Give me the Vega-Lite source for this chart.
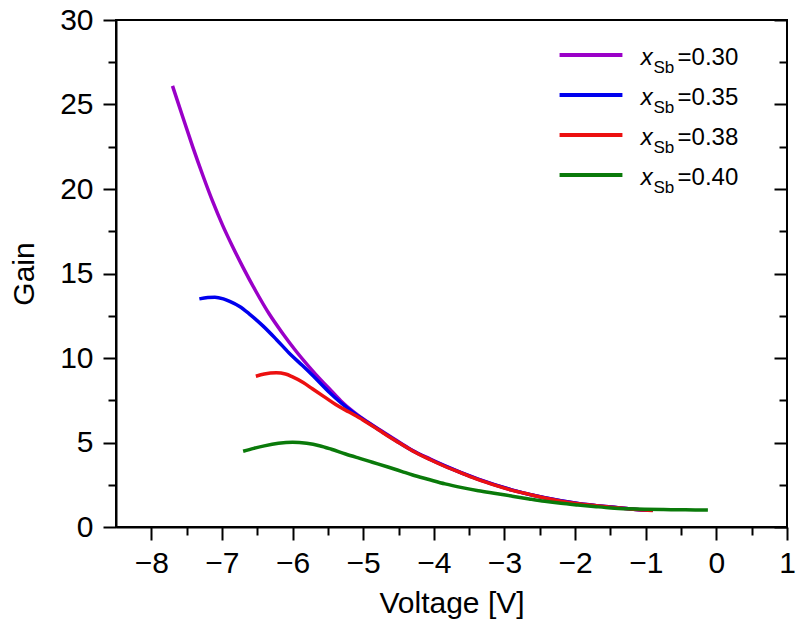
{
  "$schema": "https://vega.github.io/schema/vega-lite/v6.json",
  "width": 671,
  "height": 507,
  "autosize": {"type": "none"},
  "padding": {"left": 116, "top": 20, "right": 10, "bottom": 102},
  "background": "white",
  "view": {"stroke": "black", "strokeWidth": 2},
  "config": {
    "font": "Liberation Sans",
    "axis": {
      "grid": false,
      "domainColor": "black",
      "domainWidth": 2,
      "tickColor": "black",
      "tickWidth": 2,
      "labelFont": "Liberation Sans",
      "labelFontSize": 30,
      "labelColor": "black",
      "labelOverlap": false,
      "labelFlush": false,
      "labelBound": false,
      "titleFont": "Liberation Sans",
      "titleFontSize": 30,
      "titleFontWeight": "normal",
      "titleColor": "black"
    }
  },
  "datasets": {
    "gain": [
      {"v": -7.70, "g": 26.1, "s": "0.30"},
      {"v": -7.55, "g": 24.2, "s": "0.30"},
      {"v": -7.41, "g": 22.45, "s": "0.30"},
      {"v": -7.27, "g": 20.8, "s": "0.30"},
      {"v": -7.13, "g": 19.25, "s": "0.30"},
      {"v": -6.99, "g": 17.85, "s": "0.30"},
      {"v": -6.85, "g": 16.6, "s": "0.30"},
      {"v": -6.70, "g": 15.35, "s": "0.30"},
      {"v": -6.52, "g": 13.95, "s": "0.30"},
      {"v": -6.33, "g": 12.6, "s": "0.30"},
      {"v": -6.14, "g": 11.45, "s": "0.30"},
      {"v": -5.95, "g": 10.4, "s": "0.30"},
      {"v": -5.76, "g": 9.45, "s": "0.30"},
      {"v": -5.60, "g": 8.7, "s": "0.30"},
      {"v": -5.45, "g": 8.05, "s": "0.30"},
      {"v": -5.30, "g": 7.4, "s": "0.30"},
      {"v": -5.15, "g": 6.85, "s": "0.30"},
      {"v": -5.01, "g": 6.42, "s": "0.30"},
      {"v": -4.78, "g": 5.78, "s": "0.30"},
      {"v": -4.50, "g": 5.05, "s": "0.30"},
      {"v": -4.30, "g": 4.53, "s": "0.30"},
      {"v": -4.05, "g": 4.02, "s": "0.30"},
      {"v": -3.84, "g": 3.62, "s": "0.30"},
      {"v": -3.37, "g": 2.83, "s": "0.30"},
      {"v": -2.90, "g": 2.2, "s": "0.30"},
      {"v": -2.43, "g": 1.73, "s": "0.30"},
      {"v": -1.96, "g": 1.39, "s": "0.30"},
      {"v": -1.49, "g": 1.18, "s": "0.30"},
      {"v": -1.02, "g": 1.01, "s": "0.30"},
      {"v": -0.90, "g": 0.99, "s": "0.30"},

      {"v": -7.32, "g": 13.5, "s": "0.35"},
      {"v": -7.20, "g": 13.58, "s": "0.35"},
      {"v": -7.10, "g": 13.6, "s": "0.35"},
      {"v": -6.98, "g": 13.5, "s": "0.35"},
      {"v": -6.89, "g": 13.35, "s": "0.35"},
      {"v": -6.75, "g": 13.05, "s": "0.35"},
      {"v": -6.61, "g": 12.6, "s": "0.35"},
      {"v": -6.42, "g": 11.9, "s": "0.35"},
      {"v": -6.23, "g": 11.1, "s": "0.35"},
      {"v": -6.05, "g": 10.3, "s": "0.35"},
      {"v": -5.86, "g": 9.55, "s": "0.35"},
      {"v": -5.70, "g": 8.9, "s": "0.35"},
      {"v": -5.50, "g": 8.05, "s": "0.35"},
      {"v": -5.30, "g": 7.3, "s": "0.35"},
      {"v": -5.10, "g": 6.65, "s": "0.35"},
      {"v": -5.01, "g": 6.4, "s": "0.35"},
      {"v": -4.64, "g": 5.38, "s": "0.35"},
      {"v": -4.30, "g": 4.51, "s": "0.35"},
      {"v": -3.84, "g": 3.6, "s": "0.35"},
      {"v": -3.37, "g": 2.82, "s": "0.35"},
      {"v": -2.90, "g": 2.2, "s": "0.35"},
      {"v": -2.43, "g": 1.73, "s": "0.35"},
      {"v": -1.96, "g": 1.39, "s": "0.35"},
      {"v": -1.49, "g": 1.18, "s": "0.35"},
      {"v": -1.02, "g": 1.01, "s": "0.35"},
      {"v": -0.90, "g": 0.99, "s": "0.35"},

      {"v": -6.52, "g": 8.92, "s": "0.38"},
      {"v": -6.40, "g": 9.05, "s": "0.38"},
      {"v": -6.23, "g": 9.12, "s": "0.38"},
      {"v": -6.10, "g": 9.05, "s": "0.38"},
      {"v": -6.00, "g": 8.88, "s": "0.38"},
      {"v": -5.85, "g": 8.55, "s": "0.38"},
      {"v": -5.72, "g": 8.18, "s": "0.38"},
      {"v": -5.55, "g": 7.7, "s": "0.38"},
      {"v": -5.39, "g": 7.25, "s": "0.38"},
      {"v": -5.20, "g": 6.8, "s": "0.38"},
      {"v": -5.01, "g": 6.35, "s": "0.38"},
      {"v": -4.78, "g": 5.74, "s": "0.38"},
      {"v": -4.64, "g": 5.36, "s": "0.38"},
      {"v": -4.50, "g": 5.0, "s": "0.38"},
      {"v": -4.30, "g": 4.5, "s": "0.38"},
      {"v": -4.05, "g": 3.98, "s": "0.38"},
      {"v": -3.84, "g": 3.58, "s": "0.38"},
      {"v": -3.60, "g": 3.18, "s": "0.38"},
      {"v": -3.37, "g": 2.8, "s": "0.38"},
      {"v": -3.10, "g": 2.43, "s": "0.38"},
      {"v": -2.90, "g": 2.18, "s": "0.38"},
      {"v": -2.65, "g": 1.93, "s": "0.38"},
      {"v": -2.43, "g": 1.72, "s": "0.38"},
      {"v": -2.20, "g": 1.53, "s": "0.38"},
      {"v": -1.96, "g": 1.38, "s": "0.38"},
      {"v": -1.70, "g": 1.26, "s": "0.38"},
      {"v": -1.49, "g": 1.17, "s": "0.38"},
      {"v": -1.25, "g": 1.08, "s": "0.38"},
      {"v": -1.02, "g": 1.0, "s": "0.38"},
      {"v": -0.90, "g": 0.98, "s": "0.38"},

      {"v": -6.70, "g": 4.48, "s": "0.40"},
      {"v": -6.55, "g": 4.65, "s": "0.40"},
      {"v": -6.40, "g": 4.8, "s": "0.40"},
      {"v": -6.20, "g": 4.95, "s": "0.40"},
      {"v": -6.00, "g": 5.01, "s": "0.40"},
      {"v": -5.80, "g": 4.95, "s": "0.40"},
      {"v": -5.62, "g": 4.81, "s": "0.40"},
      {"v": -5.45, "g": 4.6, "s": "0.40"},
      {"v": -5.25, "g": 4.32, "s": "0.40"},
      {"v": -5.05, "g": 4.06, "s": "0.40"},
      {"v": -4.87, "g": 3.83, "s": "0.40"},
      {"v": -4.65, "g": 3.55, "s": "0.40"},
      {"v": -4.45, "g": 3.28, "s": "0.40"},
      {"v": -4.31, "g": 3.09, "s": "0.40"},
      {"v": -4.07, "g": 2.81, "s": "0.40"},
      {"v": -3.84, "g": 2.55, "s": "0.40"},
      {"v": -3.60, "g": 2.33, "s": "0.40"},
      {"v": -3.37, "g": 2.15, "s": "0.40"},
      {"v": -3.10, "g": 1.97, "s": "0.40"},
      {"v": -2.90, "g": 1.83, "s": "0.40"},
      {"v": -2.65, "g": 1.66, "s": "0.40"},
      {"v": -2.43, "g": 1.52, "s": "0.40"},
      {"v": -2.20, "g": 1.4, "s": "0.40"},
      {"v": -1.96, "g": 1.3, "s": "0.40"},
      {"v": -1.70, "g": 1.2, "s": "0.40"},
      {"v": -1.49, "g": 1.13, "s": "0.40"},
      {"v": -1.25, "g": 1.08, "s": "0.40"},
      {"v": -1.02, "g": 1.05, "s": "0.40"},
      {"v": -0.75, "g": 1.03, "s": "0.40"},
      {"v": -0.55, "g": 1.02, "s": "0.40"},
      {"v": -0.30, "g": 1.01, "s": "0.40"},
      {"v": -0.12, "g": 1.0, "s": "0.40"}
    ],
    "legend": [
      {"s": "0.30", "label": "=0.30"},
      {"s": "0.35", "label": "=0.35"},
      {"s": "0.38", "label": "=0.38"},
      {"s": "0.40", "label": "=0.40"}
    ]
  },
  "resolve": {
    "scale": {"y": "independent"},
    "axis": {"x": "independent", "y": "independent"}
  },
  "layer": [
    {
      "data": {"name": "gain"},
      "encoding": {
        "x": {"field": "v", "type": "quantitative",
              "scale": {"domain": [-8.5, 1], "nice": false, "zero": false}},
        "y": {"field": "g", "type": "quantitative",
              "scale": {"domain": [0, 30], "nice": false, "zero": false}}
      },
      "resolve": {"axis": {"x": "independent", "y": "independent"}},
      "layer": [
        {
          "mark": {"type": "line", "strokeWidth": 3.5, "interpolate": "monotone"},
          "encoding": {
            "color": {"field": "s", "type": "nominal", "legend": null,
                      "scale": {"domain": ["0.30", "0.35", "0.38", "0.40"],
                                "range": ["#9a00c8", "#0000ee", "#ec1010", "#0a7a0a"]}},
            "x": {"field": "v", "type": "quantitative",
                  "axis": {"orient": "bottom", "title": "Voltage [V]", "values": [-8, -7, -6, -5, -4, -3, -2, -1, 0, 1],
                           "tickSize": 13, "labelPadding": 8, "titlePadding": 10}},
            "y": {"field": "g", "type": "quantitative",
                  "axis": {"orient": "left", "title": "Gain", "values": [0, 5, 10, 15, 20, 25, 30],
                           "tickSize": 13, "labelPadding": 10, "titlePadding": 20}}
          }
        },
        {
          "mark": {"type": "point", "opacity": 0},
          "encoding": {
            "x": {"field": "v", "type": "quantitative",
                  "axis": {"orient": "bottom", "title": null, "labels": false, "domain": false, "tickSize": 8,
                           "values": [-7.5, -6.5, -5.5, -4.5, -3.5, -2.5, -1.5, -0.5, 0.5]}},
            "y": {"field": "g", "type": "quantitative",
                  "axis": {"orient": "left", "title": null, "labels": false, "domain": false, "tickSize": 8,
                           "values": [2.5, 7.5, 12.5, 17.5, 22.5, 27.5]}}
          }
        },
        {
          "mark": {"type": "point", "opacity": 0},
          "encoding": {
            "x": {"field": "v", "type": "quantitative", "axis": null},
            "y": {"field": "g", "type": "quantitative",
                  "axis": {"orient": "right", "title": null, "labels": false, "domain": false,
                           "tickSize": -13, "values": [0, 5, 10, 15, 20, 25, 30]}}
          }
        },
        {
          "mark": {"type": "point", "opacity": 0},
          "encoding": {
            "x": {"field": "v", "type": "quantitative", "axis": null},
            "y": {"field": "g", "type": "quantitative",
                  "axis": {"orient": "right", "title": null, "labels": false, "domain": false,
                           "tickSize": -8, "values": [2.5, 7.5, 12.5, 17.5, 22.5, 27.5]}}
          }
        }
      ]
    },
    {
      "data": {"name": "legend"},
      "encoding": {
        "y": {"field": "s", "type": "nominal", "axis": null,
              "scale": {"type": "point", "domain": ["0.30", "0.35", "0.38", "0.40"],
                        "range": [35, 155], "padding": 0}}
      },
      "layer": [
        {
          "mark": {"type": "rule", "strokeWidth": 4},
          "encoding": {
            "x": {"datum": -2.22, "type": "quantitative", "axis": null},
            "x2": {"datum": -1.33},
            "color": {"field": "s", "type": "nominal", "legend": null}
          }
        },
        {
          "mark": {"type": "text", "font": "Liberation Sans", "fontSize": 24, "fontStyle": "italic",
                   "align": "left", "baseline": "alphabetic", "dy": 10, "color": "black"},
          "encoding": {
            "x": {"datum": -1.07, "type": "quantitative", "axis": null},
            "text": {"value": "x"}
          }
        },
        {
          "mark": {"type": "text", "font": "Liberation Sans", "fontSize": 17,
                   "align": "left", "baseline": "alphabetic", "dy": 18, "color": "black"},
          "encoding": {
            "x": {"datum": -0.89, "type": "quantitative", "axis": null},
            "text": {"value": "Sb"}
          }
        },
        {
          "mark": {"type": "text", "font": "Liberation Sans", "fontSize": 24,
                   "align": "left", "baseline": "alphabetic", "dy": 10, "color": "black"},
          "encoding": {
            "x": {"datum": -0.55, "type": "quantitative", "axis": null},
            "text": {"field": "label", "type": "nominal"}
          }
        }
      ]
    }
  ]
}
